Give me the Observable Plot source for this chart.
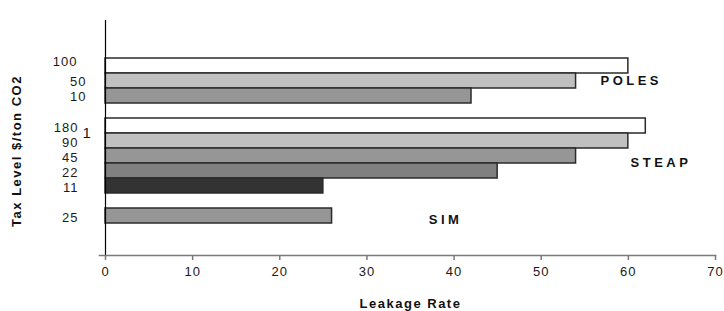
<!DOCTYPE html>
<html><head><meta charset="utf-8">
<script src="https://cdn.jsdelivr.net/npm/d3@7"></script>
<script src="https://cdn.jsdelivr.net/npm/@observablehq/plot@0.6"></script>
<style>body{margin:0;background:#fff}</style>
</head><body><div id="chart"></div>
<script>
// data
const models = ["POLES","POLES","POLES","STEAP","STEAP","STEAP","STEAP","STEAP","SIM"];
const taxLevels = ["100","50","10","180","90","45","22","11","25"];
const leakage = [60, 54, 42, 62, 60, 54, 45, 25, 26];
const shades = ["#ffffff","#c0c0c0","#969696","#ffffff","#c0c0c0","#969696","#808080","#333333","#969696"];
const xTicks = [0, 10, 20, 30, 40, 50, 60, 70];
const groupLabels = ["POLES", "STEAP", "SIM"];
const yTitle = "Tax Level $/ton CO2";
const xTitle = "Leakage Rate";

const rows = models.map((m, i) => ({key: m + "|" + taxLevels[i], model: m, tax: taxLevels[i], value: leakage[i], shade: shades[i]}));
const slots = [];
models.forEach((m, i) => {
  if (i > 0 && models[i - 1] !== m) slots.push("gap" + i);
  slots.push(rows[i].key);
});

const font = "'Liberation Sans', Arial, sans-serif";
const tickStyle = {fontSize: 13, fill: "#1a1a1a", fontFamily: font};
const bold = {fontSize: 13, fontWeight: "bold", fill: "#111", fontFamily: font};

const chart = Plot.plot({
  width: 724,
  height: 311,
  marginTop: 20,
  marginLeft: 105,
  marginRight: 9,
  marginBottom: 56,
  style: {fontFamily: font, background: "#fff"},
  x: {domain: [0, 70]},
  y: {domain: slots, range: [55, 226.6], padding: 0, axis: null},
  color: {type: "identity"},
  marks: [
    Plot.barX(rows, {x: "value", y: "key", fill: "shade", stroke: "#2b2b2b", strokeWidth: 1.5}),
    Plot.frame({anchor: "left", stroke: "#000", strokeWidth: 1.2}),
    Plot.frame({anchor: "bottom", stroke: "#7a7a7a", strokeWidth: 1.5, insetLeft: -6}),
    Plot.axisX({ticks: xTicks, tickSize: 5, tickPadding: 6, stroke: "#7a7a7a", strokeWidth: 1.5, ...tickStyle, label: null}),
    // tax level tick labels
    Plot.text(rows.filter(d => d.model === "POLES" && d.tax !== "100"), {x: 0, y: "key", text: "tax", textAnchor: "end", dx: -19, dy: 1, ...tickStyle}),
    Plot.text(rows.filter(d => d.tax === "100"), {x: 0, y: "key", text: "tax", textAnchor: "end", dx: -28, dy: -4, ...tickStyle}),
    Plot.text(rows.filter(d => d.model !== "POLES"), {x: 0, y: "key", text: "tax", textAnchor: "end", dx: -27, dy: 2, ...tickStyle}),
    Plot.text(rows.filter(d => d.tax === "180"), {x: 0, y: "key", text: () => "1", textAnchor: "start", dx: -23, dy: 7, fontSize: 15, fill: "#1a1a1a", fontFamily: font}),
    // group annotations
    Plot.text([groupLabels[0]], {x: 56.8, y: () => "POLES|50", text: d => d, textAnchor: "start", dy: 0, ...bold}),
    Plot.text([groupLabels[1]], {x: 60.25, y: () => "STEAP|45", text: d => d, textAnchor: "start", dy: 7, ...bold}),
    Plot.text([groupLabels[2]], {x: 37.1, y: () => "SIM|25", text: d => d, textAnchor: "start", dy: 4, ...bold}),
    // axis titles
    Plot.text([yTitle], {frameAnchor: "left", text: d => d, rotate: -90, textAnchor: "middle", lineAnchor: "middle", dx: -89, dy: 13, ...bold}),
    Plot.text([xTitle], {frameAnchor: "bottom", text: d => d, textAnchor: "middle", lineAnchor: "middle", dy: 48, ...bold})
  ]
});
d3.select(chart).selectAll("text").each(function() {
  const t = this.textContent;
  const v = groupLabels.includes(t) ? "3.5px" : (t === yTitle || t === xTitle) ? "1.5px" : "1px";
  this.setAttribute("letter-spacing", v);
  this.style.letterSpacing = v;
});
document.getElementById("chart").appendChild(chart);
</script>
</body></html>
